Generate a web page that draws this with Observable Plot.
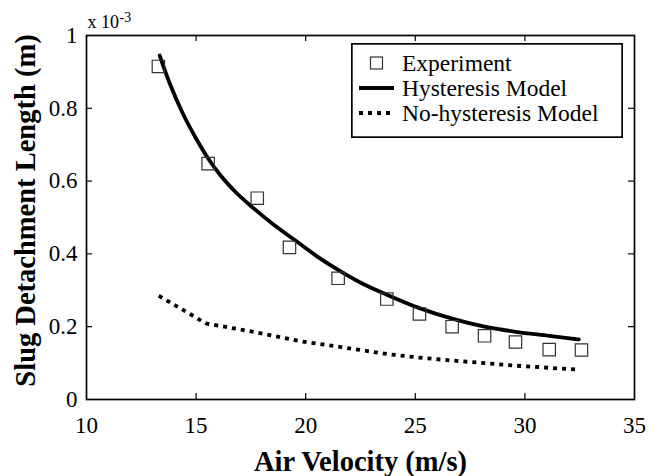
<!DOCTYPE html>
<html>
<head>
<meta charset="utf-8">
<script src="https://cdn.jsdelivr.net/npm/d3@7"></script>
<script src="https://cdn.jsdelivr.net/npm/@observablehq/plot@0.6"></script>
<style>
  html, body { margin: 0; padding: 0; background: #fff; }
  #wrap { position: relative; width: 658px; height: 476px; font-family: "Liberation Serif", "Times New Roman", serif; }
  #legend { position: absolute; left: 351px; top: 43px; }
</style>
</head>
<body>
<div id="wrap"></div>
<script>
// Experimental data (y in units of 1e-3 m)
const expX = [13.28, 15.55, 17.79, 19.26, 21.48, 23.70, 25.19, 26.68, 28.16, 29.57, 31.11, 32.58];
const expY = [0.915, 0.648, 0.553, 0.418, 0.333, 0.276, 0.235, 0.200, 0.175, 0.158, 0.137, 0.136];

// Hysteresis model curve
const hysX = [13.34, 13.8, 14.4, 15.0, 15.55, 16.11, 16.8, 17.63, 18.5, 19.55, 20.5, 21.48, 22.6, 23.7, 25.19, 26.68, 28.16, 29.57, 31.11, 32.46];
const hysY = [0.945, 0.868, 0.785, 0.717, 0.662, 0.616, 0.570, 0.525, 0.482, 0.436, 0.394, 0.356, 0.318, 0.288, 0.251, 0.222, 0.200, 0.186, 0.175, 0.165];

// No-hysteresis model curve
const noX = [13.30, 15.45, 17.79, 19.76, 21.50, 23.70, 25.19, 26.68, 28.16, 29.57, 31.11, 32.50];
const noY = [0.285, 0.209, 0.184, 0.160, 0.145, 0.125, 0.115, 0.107, 0.100, 0.093, 0.087, 0.082];

const xTicks = [10, 15, 20, 25, 30, 35];
const yTicks = [0, 0.2, 0.4, 0.6, 0.8, 1];
const legendLabels = ["Experiment", "Hysteresis Model", "No-hysteresis Model"];
const xLabel = "Air Velocity (m/s)";
const yLabel = "Slug Detachment Length (m)";
const expLabel = "x 10";
const expSup = "-3";

const W = 658, H = 476;
const mL = 86, mR = 24, mT = 35, mB = 77;
const fw = W - mL - mR, fh = H - mT - mB;
const tickLen = 6;

const expData = expX.map((x, i) => ({x, y: expY[i]}));
const hysData = hysX.map((x, i) => ({x, y: hysY[i]}));
const noData = noX.map((x, i) => ({x, y: noY[i]}));
const innerX = xTicks.slice(1, -1);
const innerY = yTicks.slice(1, -1);

const chart = Plot.plot({
  width: W, height: H,
  marginLeft: mL, marginRight: mR, marginTop: mT, marginBottom: mB,
  style: {fontFamily: "Liberation Serif, Times New Roman, serif", fontSize: "23px", color: "#000", background: "#fff"},
  x: {domain: [10, 35], ticks: xTicks, tickSize: 0, tickPadding: 17, label: null},
  y: {domain: [0, 1], ticks: yTicks, tickSize: 0, tickPadding: 9, label: null, tickFormat: d => d3.format("~g")(d)},
  marks: [
    // inward ticks (bottom, top, left, right)
    Plot.tickX(innerX, {x: d => d, insetTop: fh - tickLen, stroke: "#000", strokeWidth: 1.2}),
    Plot.tickX(innerX, {x: d => d, insetBottom: fh - tickLen, stroke: "#000", strokeWidth: 1.2}),
    Plot.tickY(innerY, {y: d => d, insetRight: fw - tickLen, stroke: "#000", strokeWidth: 1.2}),
    Plot.tickY(innerY, {y: d => d, insetLeft: fw - tickLen, stroke: "#000", strokeWidth: 1.2}),
    Plot.line(noData, {x: "x", y: "y", stroke: "#000", strokeWidth: 3.8, strokeDasharray: "4,5", strokeLinecap: "butt"}),
    Plot.line(hysData, {x: "x", y: "y", stroke: "#000", strokeWidth: 3.8, curve: "monotone-x"}),
    Plot.dot(expData, {x: "x", y: "y", symbol: "square", r: 7, stroke: "#333", strokeWidth: 1.2, fill: "none"}),
    Plot.frame({stroke: "#000", strokeWidth: 1.7}),
    Plot.text([yLabel], {frameAnchor: "left", text: d => d, rotate: -90, dx: -61, dy: -7, fontSize: 28.5, fontWeight: "bold", lineAnchor: "middle", textAnchor: "middle"}),
    Plot.text([xLabel], {frameAnchor: "bottom", text: d => d, dy: 62, fontSize: 28.5, fontWeight: "bold", lineAnchor: "middle", textAnchor: "middle"}),
    Plot.text([expLabel], {frameAnchor: "top-left", text: d => d, dx: 1, dy: -13, fontSize: 18, textAnchor: "start", lineAnchor: "middle"}),
    Plot.text([expSup], {frameAnchor: "top-left", text: d => d, dx: 33, dy: -18, fontSize: 14, textAnchor: "start", lineAnchor: "middle"})
  ]
});

const wrap = document.getElementById("wrap");
wrap.appendChild(chart);

// Legend overlay
const lw = 272, lh = 95;
const leg = d3.create("svg").attr("id", "legend").attr("width", lw).attr("height", lh)
  .style("font-family", "Liberation Serif, Times New Roman, serif");
leg.append("rect").attr("x", 0.85).attr("y", 0.85).attr("width", lw - 1.7).attr("height", lh - 1.7)
  .attr("fill", "#fff").attr("stroke", "#000").attr("stroke-width", 1.7);
const rowY = [20, 45, 70];
const symX0 = 8, symX1 = 43, textX = 51;
leg.append("rect").attr("x", 25.5 - 6).attr("y", rowY[0] - 6).attr("width", 12).attr("height", 12)
  .attr("fill", "none").attr("stroke", "#333").attr("stroke-width", 1.2);
leg.append("line").attr("x1", symX0).attr("x2", symX1).attr("y1", rowY[1]).attr("y2", rowY[1])
  .attr("stroke", "#000").attr("stroke-width", 3.8);
leg.append("line").attr("x1", symX0).attr("x2", symX1).attr("y1", rowY[2]).attr("y2", rowY[2])
  .attr("stroke", "#000").attr("stroke-width", 3.8).attr("stroke-dasharray", "4,5");
legendLabels.forEach((t, i) => {
  leg.append("text").attr("x", textX).attr("y", rowY[i]).attr("dy", "0.35em")
    .attr("font-size", 23.5).attr("fill", "#000").text(t);
});
wrap.appendChild(leg.node());
</script>
</body>
</html>
